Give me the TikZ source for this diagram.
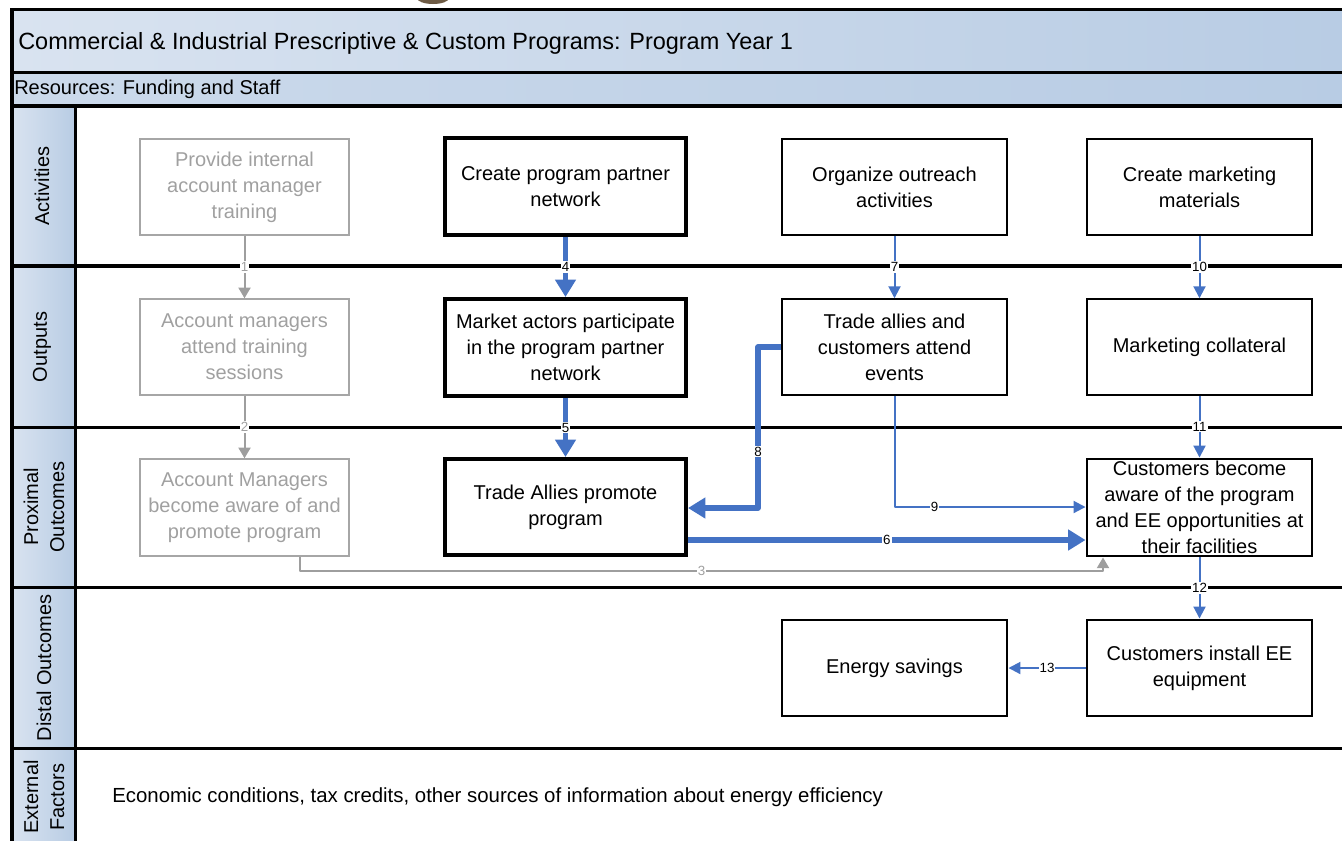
\documentclass[tikz,border=0pt]{standalone}
\usepackage{fontspec}
\setmainfont{Liberation Sans}
\usetikzlibrary{arrows.meta}

\definecolor{bandblue}{HTML}{B8CCE4}
\definecolor{bandlight}{HTML}{D9E3F0}
\definecolor{flowblue}{HTML}{4472C4}
\definecolor{mutedgray}{HTML}{A6A6A6}
\definecolor{mutedtext}{HTML}{A0A0A0}
\definecolor{arrowgray}{HTML}{9E9E9E}
\definecolor{logobrown}{HTML}{6E5B45}

\begin{document}
\begin{tikzpicture}[x=0.75pt,y=-0.75pt,
  frame/.style={line width=2.8pt, black},
  basefont/.style={font=\fontsize{15}{19.5}\selectfont},
  box/.style={basefont, align=center, rectangle, draw=black, line width=1.1pt,
    inner sep=0pt, minimum height=72pt},
  narrowcol/.style={minimum width=156.75pt},
  widecol/.style={minimum width=180.75pt},
  stdcol/.style={minimum width=168.75pt},
  boldbox/.style={box, line width=3pt},
  midbox/.style={box, line width=2.2pt},
  greybox/.style={box, draw=mutedgray, text=mutedtext},
  rowlabel/.style={basefont, align=center, rotate=90, inner sep=0pt},
  bandtext/.style={basefont, anchor=west, inner sep=0pt},
  lbl/.style={fill=white, inner sep=0.8pt, font=\fontsize{10}{12}\selectfont, text=black},
  greylbl/.style={lbl, text=mutedtext},
  thickflow/.style={draw=flowblue, line width=4pt, line join=round, -{Triangle[length=13pt,width=15pt]}},
  thinflow/.style={draw=flowblue, line width=1.5pt, line join=round, -{Triangle[length=9pt,width=9pt]}},
  greyflow/.style={draw=arrowgray, line width=1.5pt, line join=round, -{Triangle[length=8pt,width=9pt]}}
]
\useasboundingbox (0,0) rectangle (1342,840);
\clip (0,0) rectangle (1342,840);

% logo edge peeking in at the top
\fill[logobrown] (433,-2) ellipse [x radius=12pt, y radius=4.5pt];

% header bands
\shade[left color=bandlight, right color=bandblue] (12,9.5) rectangle (1350,72.5);
\shade[left color=bandlight!60!bandblue, right color=bandblue] (12,72.5) rectangle (1350,106);

% row label column
\foreach \ya/\yb in {106/266, 266/427.5, 427.5/587.5, 587.5/748.5, 748.5/850}
  \shade[left color=bandlight, right color=bandblue] (12,\ya) rectangle (75.5,\yb);

% frame lines
\foreach \yy in {9.5, 72.5, 106, 266, 427.5, 587.5, 748.5}
  \draw[frame] (10,\yy) -- (1350,\yy);
\draw[frame] (12,8) -- (12,850);
\draw[frame] (75.5,106) -- (75.5,850);

% band texts
\node[bandtext, font=\fontsize{17.6}{20}\selectfont] (title) at (18,43)
  {Commercial \& Industrial Prescriptive \& Custom Programs: Program Year 1};
\node[bandtext] (resources) at (14,89) {Resources: Funding and Staff};

\node[rowlabel] (rowact) at (42,186) {Activities};
\node[rowlabel] (rowout) at (42,347) {Outputs};
\node[rowlabel] (rowprox) at (44,507) {Proximal\\Outcomes};
\node[rowlabel] (rowdist) at (44,668) {Distal Outcomes};
\node[rowlabel] (rowext) at (44,797) {External\\Factors};

\node[bandtext, font=\fontsize{15.3}{19.5}\selectfont] (external) at (112,797)
  {Economic conditions, tax credits, other sources of information about energy efficiency};

% account manager chain
\node[greybox, narrowcol] (g1) at (244.5,187) {Provide internal\\account manager\\training};
\node[greybox, narrowcol] (g2) at (244.5,347) {Account managers\\attend training\\sessions};
\node[greybox, narrowcol, minimum height=72.75pt] (g3) at (244.5,507.5) {Account Managers\\become aware of and\\promote program};

% partner network chain
\node[boldbox, widecol, minimum height=72.75pt] (b1) at (565.5,186.5) {Create program partner\\network};
\node[boldbox, widecol, minimum height=72.75pt] (b2) at (565.5,347.5) {Market actors participate\\in the program partner\\network};
\node[boldbox, widecol] (b3) at (565.5,507) {Trade Allies promote\\program};

% outreach chain
\node[box, stdcol] (c1) at (894.5,187) {Organize outreach\\activities};
\node[box, stdcol] (c2) at (894.5,347) {Trade allies and\\customers attend\\events};

% marketing chain
\node[box, stdcol] (d1) at (1199.5,187) {Create marketing\\materials};
\node[box, stdcol] (d2) at (1199.5,347) {Marketing collateral};
\node[midbox, stdcol, minimum height=72.75pt] (d3) at (1199.5,507.5) {Customers become\\aware of the program\\and EE opportunities at\\their facilities};
\node[midbox, stdcol] (d4) at (1199.5,668) {Customers install EE\\equipment};
\node[midbox, stdcol] (e1) at (894.5,668) {Energy savings};

% bend points
\coordinate (k3a) at (300,571);
\coordinate (k3b) at (1103,571);
\coordinate (k8a) at (758,347);
\coordinate (k8b) at (758,508);
\coordinate (k9) at (894.5,507);
\coordinate (k6) at (700,540);

% connectors
\draw[greyflow] (g1) -- node[greylbl]{1} (g2);
\draw[greyflow] (g2) -- node[greylbl]{2} (g3);
\draw[greyflow] (g3.south -| k3a) -- (k3a) -- node[greylbl]{3} (k3b) -- (d3.south -| k3b);

\draw[thickflow] (b1) -- node[lbl]{4} (b2);
\draw[thickflow] (b2) -- node[lbl]{5} (b3);
\draw[thickflow] (b3.east |- k6) -- node[lbl]{6} (d3.west |- k6);

\draw[thinflow] (c1) -- node[lbl]{7} (c2);
\draw[thickflow] (c2.west) -- (k8a) -- node[lbl, pos=0.65]{8} (k8b) -- (b3.east |- k8b);
\draw[thinflow] (c2.south) -- (k9) -- node[lbl, pos=0.21]{9} (d3.west |- k9);

\draw[thinflow] (d1) -- node[lbl]{10} (d2);
\draw[thinflow] (d2) -- node[lbl]{11} (d3);
\draw[thinflow] (d3) -- node[lbl]{12} (d4);
\draw[thinflow] (d4) -- node[lbl]{13} (e1);
\end{tikzpicture}
\end{document}
